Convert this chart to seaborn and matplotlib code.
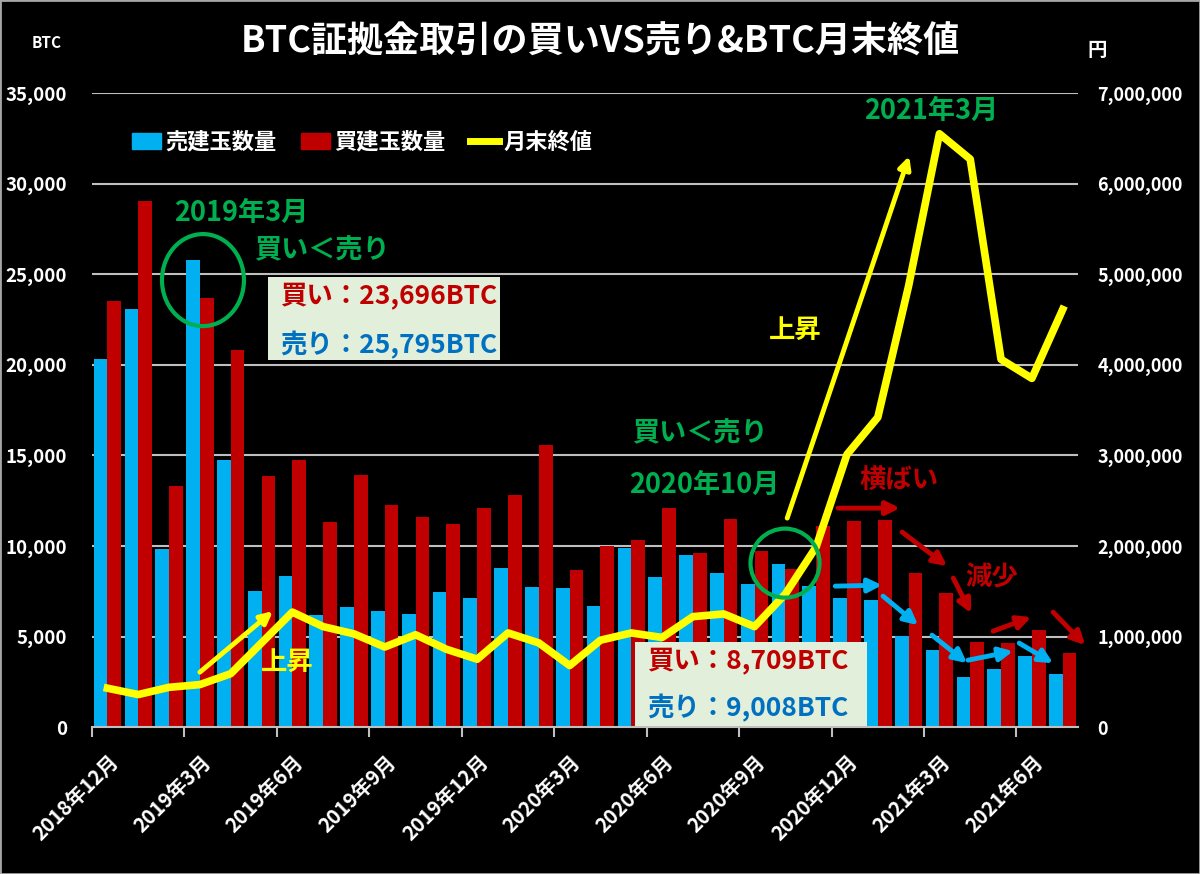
import numpy as np
import pandas as pd
import seaborn as sns
import matplotlib
matplotlib.use('Agg')
import matplotlib.pyplot as plt
from matplotlib.patches import Ellipse, Rectangle, Patch
from matplotlib.lines import Line2D
from matplotlib.ticker import FuncFormatter

plt.rcParams['font.family'] = ['Noto Sans CJK JP', 'DejaVu Sans']
plt.rcParams['font.weight'] = 'bold'

# data
months = ['2018年12月', '2019年1月', '2019年2月', '2019年3月', '2019年4月', '2019年5月',
          '2019年6月', '2019年7月', '2019年8月', '2019年9月', '2019年10月', '2019年11月',
          '2019年12月', '2020年1月', '2020年2月', '2020年3月', '2020年4月', '2020年5月',
          '2020年6月', '2020年7月', '2020年8月', '2020年9月', '2020年10月', '2020年11月',
          '2020年12月', '2021年1月', '2021年2月', '2021年3月', '2021年4月', '2021年5月',
          '2021年6月', '2021年7月']
sell = [20300, 23100, 9830, 25795, 14730, 7500, 8320, 6200, 6640, 6410, 6270, 7460,
        7110, 8780, 7760, 7690, 6670, 9870, 8280, 9520, 8500, 7910, 9008, 7800,
        7150, 7040, 5010, 4260, 2750, 3190, 3910, 2960]
buy = [23530, 29060, 13330, 23696, 20830, 13870, 14730, 11330, 13940, 12260, 11580, 11220,
       12070, 12800, 15570, 8650, 10020, 10320, 12070, 9590, 11480, 9740, 8709, 11110,
       11390, 11460, 8500, 7410, 4710, 4640, 5380, 4120]
close = [430000, 360000, 440000, 470000, 590000, 930000, 1270000, 1110000, 1030000, 885000,
         1020000, 860000, 750000, 1040000, 930000, 680000, 960000, 1040000, 990000, 1220000,
         1250000, 1110000, 1470000, 1990000, 3010000, 3420000, 4870000, 6550000, 6270000,
         4060000, 3850000, 4610000]
tick_labels = months[::3]

BLUE = '#00B0F0'
RED = '#C00000'
YELLOW = '#FFFF00'
GREEN = '#00B050'
GRID = '#BFBFBF'

df = pd.DataFrame({'月': months * 2,
                   '数量': sell + buy,
                   '系列': ['売建玉数量'] * len(months) + ['買建玉数量'] * len(months)})

fig = plt.figure(figsize=(12, 8.74), dpi=100, facecolor='black')
ax = fig.add_axes([0.0767, 0.168, 0.8217, 0.7256])
ax.set_facecolor('black')

sns.barplot(data=df, x='月', y='数量', hue='系列', order=months,
            hue_order=['売建玉数量', '買建玉数量'], palette=[BLUE, RED],
            saturation=1, width=0.89, gap=0, linewidth=0, errorbar=None,
            legend=False, ax=ax, zorder=2)

fmt = FuncFormatter(lambda v, p: f'{v:,.0f}')
ax.set_ylim(0, 35000)
ax.set_yticks(range(0, 35001, 5000))
ax.yaxis.set_major_formatter(fmt)
ax.grid(axis='y', color=GRID, lw=1.5)
ax.grid(axis='x', visible=False)
ax.set_axisbelow(True)
ax.set_xlabel('')
ax.set_ylabel('')
for s in ['left', 'right', 'top']:
    ax.spines[s].set_visible(False)
ax.spines['bottom'].set_color(GRID)
ax.spines['bottom'].set_linewidth(1.5)
ax.tick_params(axis='y', length=0, pad=18, labelsize=13.5, labelcolor='white')

ax.set_xticks(np.arange(-0.5, 30, 3), labels=[''] * 11)
ax.set_xticks(range(0, 32, 3), labels=tick_labels, minor=True)
ax.tick_params(axis='x', which='major', length=7, width=1.5, color=GRID)
ax.tick_params(axis='x', which='minor', length=0, pad=17, labelsize=14.5,
               labelcolor='white', labelrotation=45)
plt.setp(ax.get_xticklabels(minor=True), ha='right', rotation_mode='anchor')
ax.set_xlim(-0.5, 31.5)

ax2 = ax.twinx()
sns.lineplot(x=months, y=close, sort=False, color=YELLOW, lw=5.5, ax=ax2, zorder=3)
ax2.lines[0].set_solid_joinstyle('round')
ax2.set_ylim(0, 7000000)
ax2.set_yticks(range(0, 7000001, 1000000))
ax2.yaxis.set_major_formatter(fmt)
ax2.tick_params(axis='y', length=0, pad=14, labelsize=13, labelcolor='white')
ax2.set_ylabel('')
for s in ['left', 'right', 'top', 'bottom']:
    ax2.spines[s].set_visible(False)
ax2.set_xlim(-0.5, 31.5)

# titles and axis units
fig.text(0.5, 1 - 42 / 874, 'BTC証拠金取引の買いVS売り&BTC月末終値', color='white',
         fontsize=26, ha='center', va='center')
fig.text(47 / 1200, 1 - 43 / 874, 'BTC', color='white', fontsize=11, ha='center', va='center')
fig.text(1097 / 1200, 1 - 50 / 874, '円', color='white', fontsize=14, ha='center', va='center')

handles = [Patch(color=BLUE), Patch(color=RED), Line2D([], [], color=YELLOW, lw=5)]
fig.legend(handles, ['売建玉数量', '買建玉数量', '月末終値'], loc='center left',
           bbox_to_anchor=(132 / 1200, 1 - 142 / 874), ncol=3, frameon=False,
           fontsize=16, labelcolor='white', handlelength=1.3, handleheight=0.7,
           handletextpad=0.2, columnspacing=1.1, borderpad=0, borderaxespad=0)

# annotations (x in category units, y in BTC)
T = ax.transData


def note(x, y, s, color, size=19.5, ha='center'):
    ax2.text(x, y, s, transform=T, color=color, fontsize=size, ha=ha, va='center', zorder=6)


def arrow(x0, y0, x1, y1, color, lw=3.5, ms=20):
    ax2.annotate('', xy=(x1, y1), xytext=(x0, y0), xycoords=T, textcoords=T,
                 arrowprops=dict(arrowstyle='-|>', color=color, lw=lw, mutation_scale=ms,
                                 shrinkA=0, shrinkB=0), zorder=5)


ax2.add_patch(Ellipse((3.10, 24674), 2.66, 5080, fill=False, edgecolor=GREEN, lw=3,
                      transform=T, zorder=5))
ax2.add_patch(Ellipse((21.99, 9053), 2.24, 3809, fill=False, edgecolor=GREEN, lw=3,
                      transform=T, zorder=5))
ax2.add_patch(Rectangle((5.21, 20258), 7.53, 4582, facecolor='#E2EFDA', edgecolor='none',
                        transform=T, zorder=4))
ax2.add_patch(Rectangle((17.12, 80), 7.53, 4612, facecolor='#E2EFDA', edgecolor='none',
                        transform=T, zorder=4))

note(4.35, 28373, '2019年3月', GREEN)
note(6.95, 26330, '買い＜売り', GREEN)
note(5.60, 23736, '買い：23,696BTC', RED, 19, 'left')
note(5.60, 21086, '売り：25,795BTC', '#0070C0', 19, 'left')
note(5.83, 3588, '上昇', YELLOW, 19)
note(19.23, 16229, '買い＜売り', GREEN)
note(19.36, 13358, '2020年10月', GREEN)
note(17.51, 3588, '買い：8,709BTC', RED, 19, 'left')
note(17.51, 1049, '売り：9,008BTC', '#0070C0', 19, 'left')
note(22.32, 21914, '上昇', YELLOW, 19)
note(26.73, 34003, '2021年3月', GREEN)
note(25.70, 13634, '横ばい', RED, 19)
note(28.70, 8225, '減少', RED, 19)

arrow(3.00, 3036, 5.37, 6403, YELLOW, lw=3.5, ms=18)
arrow(22.06, 11537, 26.02, 31519, YELLOW, lw=3.5, ms=18)

arrow(23.71, 12089, 25.72, 12089, RED)
arrow(25.79, 10764, 27.25, 8887, RED)
arrow(27.45, 8225, 28.03, 6293, RED)
arrow(28.74, 5299, 29.98, 6072, RED)
arrow(30.69, 6348, 31.73, 4526, RED)

arrow(23.62, 7783, 25.14, 7838, BLUE)
arrow(25.17, 7231, 26.31, 5630, BLUE)
arrow(26.76, 5078, 27.90, 3533, BLUE)
arrow(27.93, 3698, 29.39, 4195, BLUE)
arrow(29.59, 4637, 30.69, 3533, BLUE)

ax2.set_ylim(0, 7000000)
ax2.set_xlim(-0.5, 31.5)

fig.add_artist(Rectangle((0, 0), 1, 1, transform=fig.transFigure, fill=False,
                         edgecolor='#A6A6A6', lw=2))

fig.savefig('out.png', dpi=100, facecolor='black')
